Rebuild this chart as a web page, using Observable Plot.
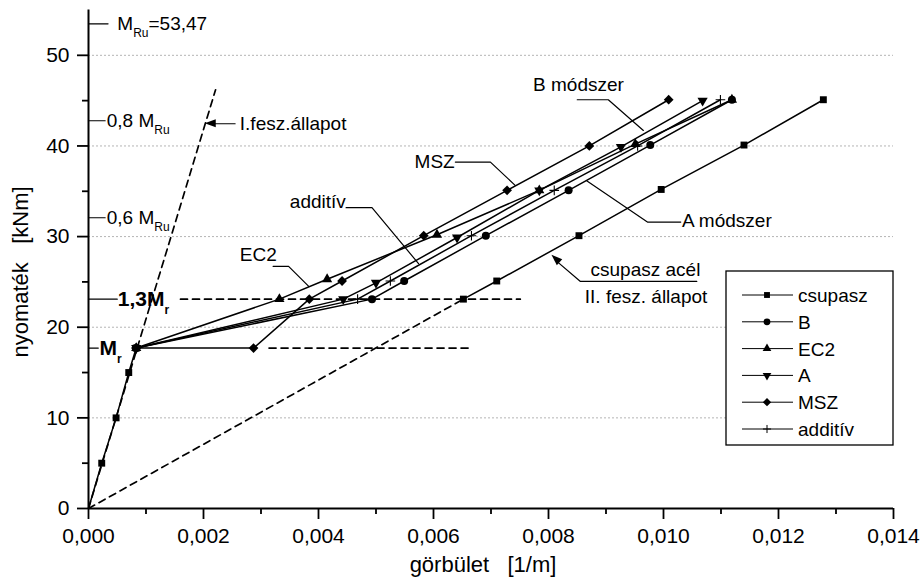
<!DOCTYPE html>
<html><head><meta charset="utf-8">
<script src="https://cdn.jsdelivr.net/npm/d3@7"></script>
<script src="https://cdn.jsdelivr.net/npm/@observablehq/plot@0.6"></script>
<style>
html,body{margin:0;padding:0;background:#fff;}
svg{display:block;}
</style>
</head><body><div id="chart"></div>
<script>
const FONT = "'Liberation Sans', Arial, Helvetica, sans-serif";

// ---- data ----
const seriesNames = ["csupasz", "B", "EC2", "A", "MSZ", "additív"];
const csupaszX = [0, 0.00023, 0.00048, 0.00070, 0.00083, 0.00652, 0.00710, 0.00853, 0.00996, 0.01140, 0.01278];
const csupaszY = [0, 5, 10, 15, 17.7, 23.1, 25.1, 30.1, 35.2, 40.1, 45.1];
const csupaszSeg = [1, 1, 1, 1, 1, 2, 2, 2, 2, 2, 2]; // state I part, then state II part
const bX = [0.00083, 0.00493, 0.00549, 0.00691, 0.00835, 0.00977, 0.01119];
const bY = [17.7, 23.1, 25.1, 30.1, 35.1, 40.1, 45.1];
const ec2X = [0.00083, 0.00332, 0.00415, 0.00606, 0.00784, 0.00951, 0.01119];
const ec2Y = [17.7, 23.1, 25.3, 30.2, 35.1, 40.2, 45.1];
const aX = [0.00083, 0.00443, 0.00500, 0.00641, 0.00784, 0.00926, 0.01068];
const aY = [17.7, 23.1, 24.9, 29.9, 35.1, 39.9, 45.0];
const mszX = [0.00083, 0.00287, 0.00384, 0.00441, 0.00583, 0.00728, 0.00871, 0.01009];
const mszY = [17.7, 17.7, 23.1, 25.1, 30.1, 35.1, 40.0, 45.1];
const addX = [0.00083, 0.00468, 0.00525, 0.00666, 0.00810, 0.00955, 0.01099];
const addY = [17.7, 23.1, 25.1, 30.1, 35.1, 40.0, 45.1];

const Mr = 17.7, M13r = 23.1, MRu = 53.47, M08Ru = 42.78, M06Ru = 32.08;
const stateIX = [0, 0.00221], stateIY = [0, 46.2];
const stateIIX = [0, 0.00652], stateIIY = [0, 23.1];
const hLine13X = [0.0016, 0.00751];
const hLineMrX = [0.00314, 0.00664];

const xTicks = [0, 0.002, 0.004, 0.006, 0.008, 0.010, 0.012, 0.014];
const xMinorTicks = [0.001, 0.003, 0.005, 0.007, 0.009, 0.011, 0.013];
const yTicks = [0, 10, 20, 30, 40, 50];
const yMinorTicks = [5, 15, 25, 35, 45];
const gridY = [10, 20, 30, 40, 50];

// ---- symbols ----
const sqrt3 = Math.sqrt(3);
const triangleDown = {
  draw(ctx, size) {
    const y = -Math.sqrt(size / (sqrt3 * 3));
    ctx.moveTo(0, -y * 2);
    ctx.lineTo(-sqrt3 * y, y);
    ctx.lineTo(sqrt3 * y, y);
    ctx.closePath();
  }
};
const seriesStyle = {
  "csupasz": {symbol: d3.symbolSquare, r: 3.9, fill: "#000", stroke: "none"},
  "B": {symbol: d3.symbolCircle, r: 4, fill: "#000", stroke: "none"},
  "EC2": {symbol: d3.symbolTriangle, r: 3.8, fill: "#000", stroke: "none"},
  "A": {symbol: triangleDown, r: 3.8, fill: "#000", stroke: "none"},
  "MSZ": {symbol: d3.symbolDiamond2, r: 4.4, fill: "#000", stroke: "none"},
  "additív": {symbol: d3.symbolPlus, r: 3.2, fill: "none", stroke: "#000"}
};
const seriesX = [csupaszX, bX, ec2X, aX, mszX, addX];
const seriesY = [csupaszY, bY, ec2Y, aY, mszY, addY];
const rows = [];
seriesNames.forEach((s, i) => seriesX[i].forEach((x, j) => rows.push({
  series: s, seg: s + (i === 0 ? csupaszSeg[j] : ""), x, y: seriesY[i][j]
})));

const zip = (xs, ys, key) => xs.map((x, i) => ({x, y: ys[i], k: key}));
const dashedRows = [
  ...zip(stateIX, stateIY, "I"),
  ...zip(stateIIX, stateIIY, "II"),
  ...zip(hLine13X, [M13r, M13r], "h13"),
  ...zip(hLineMrX, [Mr, Mr], "hMr")
];

// annotation leader lines (data coordinates)
const leaders = [
  [[0, MRu], [0.00034, MRu]],
  [[0, M08Ru], [0.00029, M08Ru]],
  [[0, M06Ru], [0.00029, M06Ru]],
  [[0, M13r], [0.0005, M13r]],
  [[0, Mr], [0.00017, Mr]],
  [[0.00255, 42.45], [0.00210, 42.45]],
  [[0.00321, 26.72], [0.00348, 26.72], [0.00383, 24.51]],
  [[0.00448, 33.19], [0.00493, 33.19], [0.00574, 27.02]],
  [[0.00638, 38.22], [0.00699, 38.22], [0.00742, 35.65]],
  [[0.00850, 45.1], [0.00904, 45.1], [0.00965, 41.71]],
  [[0.01030, 31.6], [0.00972, 31.6], [0.00867, 36.12]],
  [[0.01058, 25.07], [0.00855, 25.07], [0.00812, 27.4]]
];
const leaderRows = [];
leaders.forEach((pts, i) => pts.forEach(([x, y]) => leaderRows.push({x, y, k: i})));
const arrows = [
  {from: [0.00255, 42.45], tip: [0.00203, 42.45]},
  {from: [0.00855, 25.07], tip: [0.00806, 27.93]}
];
const labels = [
  {x: 0.00051, y: MRu, parts: [["M"], ["Ru", "sub"], ["=53,47"]]},
  {x: 0.000325, y: M08Ru, parts: [["0,8 M"], ["Ru", "sub"]]},
  {x: 0.000325, y: M06Ru, parts: [["0,6 M"], ["Ru", "sub"]]},
  {x: 0.000517, y: M13r, bold: true, parts: [["1,3M"], ["r", "sub"]]},
  {x: 0.0002, y: Mr, bold: true, parts: [["M"], ["r", "sub"]]},
  {x: 0.00264, y: 42.45, parts: [["I.fesz.állapot"]]},
  {x: 0.00264, y: 28.04, parts: [["EC2"]]},
  {x: 0.00351, y: 33.81, parts: [["additív"]]},
  {x: 0.00568, y: 38.22, parts: [["MSZ"]]},
  {x: 0.00774, y: 46.79, parts: [["B módszer"]]},
  {x: 0.01033, y: 31.71, parts: [["A módszer"]]},
  {x: 0.00874, y: 26.35, parts: [["csupasz acél"]]},
  {x: 0.00864, y: 23.41, parts: [["II. fesz. állapot"]]}
];

const fmtX = d => d3.format(".3f")(d).replace(".", ",");

const chart = Plot.plot({
  width: 921, height: 585,
  marginLeft: 88, marginRight: 28, marginTop: 9.5, marginBottom: 77,
  x: {domain: [0, 0.014], axis: null},
  y: {domain: [0, 55], axis: null},
  style: {fontFamily: FONT, fontSize: "21px", color: "#000", background: "#fff", overflow: "visible"},
  marks: [
    Plot.ruleY(gridY, {x1: 0, x2: 0.014, stroke: "#b5b5b5", strokeWidth: 1, strokeDasharray: "2,2"}),
    Plot.line(dashedRows, {x: "x", y: "y", z: "k", stroke: "#000", strokeWidth: 1.7, strokeDasharray: "7,5"}),
    Plot.line(leaderRows, {x: "x", y: "y", z: "k", stroke: "#000", strokeWidth: 1.2}),
    Plot.line(rows, {x: "x", y: "y", z: "seg", stroke: "#000", strokeWidth: 1.5}),
    ...seriesNames.map(s => Plot.dot(rows.filter(d => d.series === s && d.y > 0), {
      x: "x", y: "y", symbol: seriesStyle[s].symbol, r: seriesStyle[s].r,
      fill: seriesStyle[s].fill, stroke: seriesStyle[s].stroke, strokeWidth: 1.1
    })),
    Plot.ruleX([0], {y1: 0, y2: 55, stroke: "#000", strokeWidth: 2}),
    Plot.ruleY([0], {x1: 0, x2: 0.014, stroke: "#000", strokeWidth: 2}),
    Plot.axisX(xTicks, {label: null, tickSize: 11, tickPadding: 9, tickFormat: fmtX, strokeWidth: 1.8, fontSize: 21}),
    Plot.axisX(xMinorTicks, {label: null, tickSize: 6, tickFormat: () => "", strokeWidth: 1.8}),
    Plot.axisY(yTicks, {label: null, tickSize: 11, tickPadding: 8, tickFormat: d => String(d), strokeWidth: 1.8, fontSize: 21}),
    Plot.axisY(yMinorTicks, {label: null, tickSize: 6, tickFormat: () => "", strokeWidth: 1.8})
  ]
});
document.getElementById("chart").appendChild(chart);

// ---- annotations via plot scales ----
const sx = chart.scale("x").apply, sy = chart.scale("y").apply;
const svg = d3.select(chart);
const g = svg.append("g").attr("font-family", FONT).attr("text-anchor", "start");

// arrowheads
arrows.forEach(({from, tip}) => {
  const x0 = sx(from[0]), y0 = sy(from[1]), x1 = sx(tip[0]), y1 = sy(tip[1]);
  const ang = Math.atan2(y1 - y0, x1 - x0) * 180 / Math.PI;
  g.append("path").attr("d", "M0,0L-11,-4L-11,4Z").attr("fill", "#000")
    .attr("transform", `translate(${x1},${y1}) rotate(${ang})`);
});

labels.forEach(l => {
  const fs = l.bold ? 21 : 19;
  const t = g.append("text").attr("x", sx(l.x)).attr("y", sy(l.y) + fs * 0.36)
    .attr("text-anchor", "start")
    .attr("font-size", fs).attr("font-weight", l.bold ? "bold" : "normal").attr("fill", "#000");
  let shifted = false;
  l.parts.forEach(([txt, kind]) => {
    const ts = t.append("tspan").text(txt);
    if (kind === "sub") { ts.attr("font-size", 12).attr("dy", l.bold ? 8 : 7); shifted = true; }
    else if (shifted) { ts.attr("dy", l.bold ? -8 : -7); shifted = false; }
  });
});

// axis titles
g.append("text").attr("transform", "translate(28,272) rotate(-90)").attr("text-anchor", "middle")
  .attr("font-size", 22).style("white-space", "pre").text("nyomaték   [kNm]");
g.append("text").attr("x", 483).attr("y", 572).attr("text-anchor", "middle")
  .attr("font-size", 22).style("white-space", "pre").text("görbület   [1/m]");

// legend
const lg = g.append("g");
lg.append("rect").attr("x", 726).attr("y", 271).attr("width", 167).attr("height", 174)
  .attr("fill", "#fff").attr("stroke", "#000").attr("stroke-width", 1.3);
seriesNames.forEach((s, i) => {
  const yy = 295 + i * 26.8;
  lg.append("line").attr("x1", 742).attr("x2", 793).attr("y1", yy).attr("y2", yy).attr("stroke", "#000").attr("stroke-width", 1);
  const st = seriesStyle[s];
  const size = Math.PI * (st.r * 0.85) ** 2;
  lg.append("path").attr("d", d3.symbol(st.symbol, size)()).attr("transform", `translate(767,${yy})`)
    .attr("fill", st.fill).attr("stroke", st.stroke).attr("stroke-width", 1);
  lg.append("text").attr("x", 798).attr("y", yy + 7).attr("text-anchor", "start").attr("font-size", 19).text(s);
});
</script>
</body></html>
